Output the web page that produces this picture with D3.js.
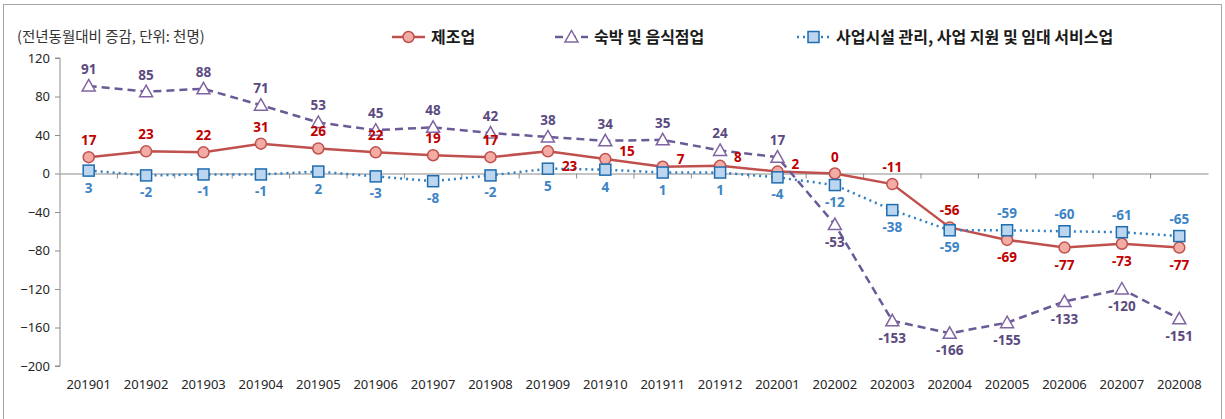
<!DOCTYPE html>
<html>
<head>
<meta charset="utf-8">
<script src="https://cdn.jsdelivr.net/npm/d3@7"></script>
<style>
  body { margin: 0; background: #fff; }
  text { font-family: "Noto Sans CJK KR", "Noto Sans", sans-serif; }
</style>
</head>
<body>
<div id="chart"></div>
<script>
// data
var months = ['201901','201902','201903','201904','201905','201906','201907','201908','201909','201910',
              '201911','201912','202001','202002','202003','202004','202005','202006','202007','202008'];
var manufacturing = [17, 23, 22, 31, 26, 22, 19, 17, 23, 15, 7, 8, 2, 0, -11, -56, -69, -77, -73, -77];
var lodging = [91, 85, 88, 71, 53, 45, 48, 42, 38, 34, 35, 24, 17, -53, -153, -166, -155, -133, -120, -151];
var business = [3, -2, -1, -1, 2, -3, -8, -2, 5, 4, 1, 1, -4, -12, -38, -59, -59, -60, -61, -65];
var yTicks = [120, 80, 40, 0, -40, -80, -120, -160, -200];
var seriesNames = ['제조업', '숙박 및 음식점업', '사업시설 관리, 사업 지원 및 임대 서비스업'];

// where each label sits relative to its point: t = top, b = bottom, r = right
var manuPos = ['t','t','t','t','t','t','t','t','rb','r','r','rt','r','t','t','t','b','b','b','b'];
var lodgPos = ['t','t','t','t','t','t','t','t','t','t','t','t','t','b','b','b','b','b','b','b'];
var busiPos = ['b','b','b','b','b','b','b','b','b','b','b','b','b','b','b','b','t','t','t','t'];

const WIDTH = 1225;
const HEIGHT = 419;

var svg = d3.select('#chart').append('svg')
  .attr('width', WIDTH)
  .attr('height', HEIGHT);

// frame
svg.append('rect')
  .attr('x', 3.5).attr('y', 4.5)
  .attr('width', 1218).attr('height', 420)
  .attr('fill', 'none')
  .attr('stroke', '#a6a6a6');

var x = d3.scaleBand().domain(months).range([60, 1208]);
var y = d3.scaleLinear().domain([-200, 120]).range([366, 58]);
var cx = function (d, i) { return x(months[i]) + x.bandwidth() / 2; };

// y axis
var yAxis = svg.append('g')
  .attr('transform', 'translate(60,0)')
  .call(d3.axisLeft(y).tickValues(yTicks).tickSize(5).tickPadding(5));
yAxis.select('.domain').attr('stroke', '#8c8c8c').attr('d', 'M-5,' + y(120) + 'H0V' + y(-200) + 'H-5');
yAxis.selectAll('.tick line').attr('stroke', '#8c8c8c');
yAxis.selectAll('.tick text')
  .attr('fill', '#262626')
  .style('font-size', '13px')
  .style('font-family', '"Noto Sans", sans-serif');

// zero line with category ticks
var xAxis = svg.append('g')
  .attr('transform', 'translate(0,' + y(0) + ')')
  .call(d3.axisBottom(x).tickValues([]).tickSizeOuter(0));
xAxis.select('.domain').attr('stroke', '#8c8c8c');
xAxis.selectAll('.bnd')
  .data(months.slice(1))
  .enter().append('line')
  .attr('x1', function (d) { return x(d); })
  .attr('x2', function (d) { return x(d); })
  .attr('y1', 0).attr('y2', 5)
  .attr('stroke', '#8c8c8c');

// x labels at bottom
svg.append('g').selectAll('text')
  .data(months)
  .enter().append('text')
  .attr('x', function (d) { return x(d) + x.bandwidth() / 2; })
  .attr('y', 389)
  .attr('text-anchor', 'middle')
  .attr('fill', '#262626')
  .style('font-size', '13px')
  .style('font-family', '"Noto Sans", sans-serif')
  .text(function (d) { return d; });

// unit note
svg.append('text')
  .attr('x', 17).attr('y', 42)
  .attr('fill', '#333')
  .style('font-size', '14.5px')
  .text('(전년동월대비 증감, 단위: 천명)');

var line = d3.line().x(cx).y(function (d) { return y(d); });

var styles = [
  { data: manufacturing, pos: manuPos, stroke: '#c0504d', dash: null, width: 2.5, fill: '#f2aca4', mstroke: '#c0504d', label: '#c00000', marker: 'circle' },
  { data: lodging, pos: lodgPos, stroke: '#6a5b96', dash: '8,5', width: 2.5, fill: '#ffffff', mstroke: '#8064a2', label: '#5b4a80', marker: 'triangle' },
  { data: business, pos: busiPos, stroke: '#2f7fc1', dash: '2,4', width: 2.5, fill: '#bcd6f0', mstroke: '#1f6cb0', label: '#3d84c6', marker: 'square' }
];

function drawMarker (g, kind, s, px, py) {
  if (kind === 'circle') {
    g.append('circle').attr('cx', px).attr('cy', py).attr('r', 5.5)
      .attr('fill', s.fill).attr('stroke', s.mstroke).attr('stroke-width', 1.5);
  } else if (kind === 'triangle') {
    g.append('path')
      .attr('d', 'M' + px + ',' + (py - 6.5) + 'L' + (px + 6.5) + ',' + (py + 5) + 'L' + (px - 6.5) + ',' + (py + 5) + 'Z')
      .attr('fill', s.fill).attr('stroke', s.mstroke).attr('stroke-width', 1.5);
  } else {
    g.append('rect').attr('x', px - 5.5).attr('y', py - 5.5).attr('width', 11).attr('height', 11)
      .attr('fill', s.fill).attr('stroke', s.mstroke).attr('stroke-width', 1.5);
  }
}

styles.forEach(function (s) {
  var g = svg.append('g');
  g.append('path')
    .attr('d', line(s.data))
    .attr('fill', 'none')
    .attr('stroke', s.stroke)
    .attr('stroke-width', s.width)
    .attr('stroke-dasharray', s.dash);
  s.data.forEach(function (d, i) {
    drawMarker(g, s.marker, s, cx(d, i), y(d));
  });
});

// labels on top of all lines
styles.forEach(function (s) {
  svg.append('g').selectAll('text')
    .data(s.data)
    .enter().append('text')
    .attr('x', function (d, i) {
      var p = s.pos[i];
      return cx(d, i) + (p.charAt(0) === 'r' ? 14 : 0);
    })
    .attr('y', function (d, i) {
      var p = s.pos[i];
      var py = y(d);
      if (p === 't') return py - 12;
      if (p === 'b') return py + 22;
      if (p === 'rt') return py - 4;
      if (p === 'rb') return py + 20;
      return py - 3;
    })
    .attr('text-anchor', function (d, i) { return s.pos[i].charAt(0) === 'r' ? 'start' : 'middle'; })
    .attr('fill', s.label)
    .style('font-size', '13.5px')
    .style('font-weight', 'bold')
    .style('font-family', '"Noto Sans", sans-serif')
    .text(function (d) { return d; });
});

// legend
var legendX = [392, 555, 797];
styles.forEach(function (s, i) {
  var g = svg.append('g');
  var lx = legendX[i], ly = 37;
  g.append('line')
    .attr('x1', lx).attr('x2', lx + 33)
    .attr('y1', ly).attr('y2', ly)
    .attr('stroke', s.stroke).attr('stroke-width', 2.5)
    .attr('stroke-dasharray', s.dash);
  drawMarker(g, s.marker, s, lx + 16.5, ly);
  g.append('text')
    .attr('x', lx + 39).attr('y', ly + 6)
    .attr('fill', '#1a1a1a')
    .style('font-size', '16px')
    .style('font-weight', 'bold')
    .text(seriesNames[i]);
});
</script>
</body>
</html>
